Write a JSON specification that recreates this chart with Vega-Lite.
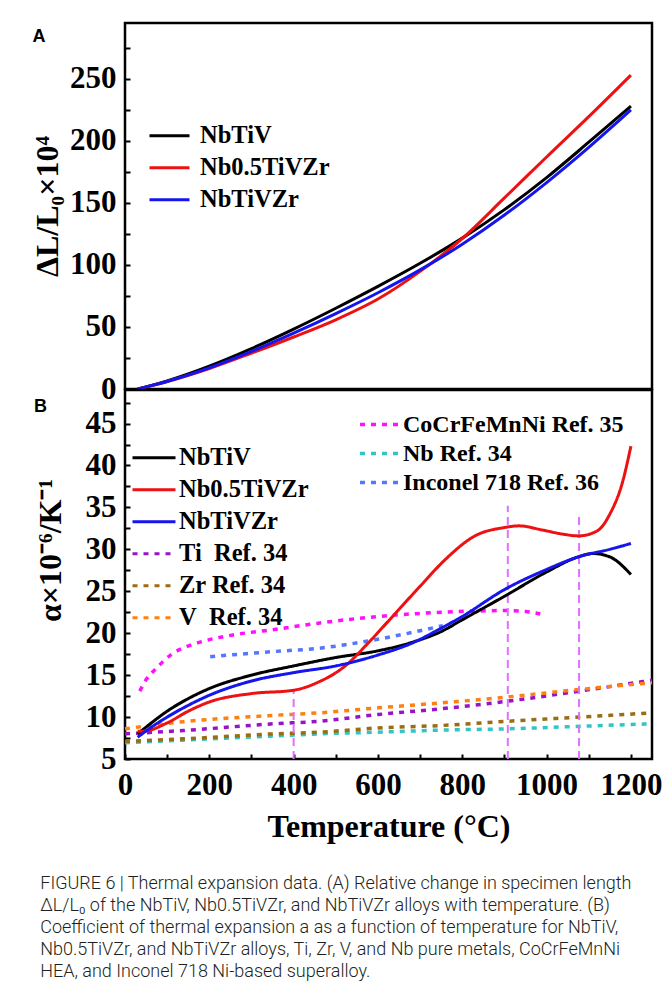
{
  "$schema": "https://vega.github.io/schema/vega-lite/v6.json",
  "padding": {"left": 30, "top": 21, "right": 5, "bottom": 5},
  "background": "white",
  "bounds": "flush",
  "config": {
    "view": {"stroke": "black", "strokeWidth": 2.5},
    "axis": {"domain": false, "grid": false, "ticks": true, "tickColor": "black", "tickWidth": 2, "tickSize": -5, "labelFlush": false,
      "labelFont": "Liberation Serif", "labelFontWeight": "bold", "labelFontSize": 31, "labelColor": "black",
      "titleFont": "Liberation Serif", "titleFontWeight": "bold", "titleFontSize": 32, "titleColor": "black"},
    "legend": {"title": null, "labelFont": "Liberation Serif", "labelFontWeight": "bold", "labelFontSize": 24.5, "labelColor": "black", "labelLimit": 400, "symbolStrokeWidth": 3, "symbolType": "stroke", "labelOffset": 8}
  },
  "title": {
    "text": [
      "FIGURE 6 | Thermal expansion data. (A) Relative change in specimen length",
      "ΔL/L₀ of the NbTiV, Nb0.5TiVZr, and NbTiVZr alloys with temperature. (B)",
      "Coefficient of thermal expansion a as a function of temperature for NbTiV,",
      "Nb0.5TiVZr, and NbTiVZr alloys, Ti, Zr, V, and Nb pure metals, CoCrFeMnNi",
      "HEA, and Inconel 718 Ni-based superalloy."
    ],
    "orient": "bottom", "anchor": "start", "frame": "bounds", "font": "Roboto", "fontSize": 18, "fontWeight": 300, "lineHeight": 22, "offset": 32, "dx": 10, "color": "#231f20"
  },
  "spacing": 1,
  "resolve": {"scale": {"color": "independent", "strokeDash": "independent", "stroke": "independent", "x": "independent", "y": "independent"}},
  "vconcat": [
    {
      "width": 527, "height": 366,
      "title": {"text": "A", "anchor": "start", "frame": "bounds", "orient": "top", "offset": -23, "font": "Liberation Sans", "fontSize": 18, "fontWeight": "bold", "dx": 1, "color": "black"},
      "data": {"values": [
        {"series": "NbTiV", "T": 30, "dL": 0}, {"series": "NbTiV", "T": 50, "dL": 1.7}, {"series": "NbTiV", "T": 100, "dL": 6.6}, {"series": "NbTiV", "T": 200, "dL": 18.5}, {"series": "NbTiV", "T": 300, "dL": 32.6}, {"series": "NbTiV", "T": 400, "dL": 48.3}, {"series": "NbTiV", "T": 500, "dL": 65.1}, {"series": "NbTiV", "T": 600, "dL": 82.7}, {"series": "NbTiV", "T": 700, "dL": 101.3}, {"series": "NbTiV", "T": 800, "dL": 121.6}, {"series": "NbTiV", "T": 900, "dL": 144.6}, {"series": "NbTiV", "T": 1000, "dL": 170.4}, {"series": "NbTiV", "T": 1100, "dL": 198.9}, {"series": "NbTiV", "T": 1200, "dL": 228},
        {"series": "Nb0.5TiVZr", "T": 30, "dL": 0}, {"series": "Nb0.5TiVZr", "T": 50, "dL": 1.6}, {"series": "Nb0.5TiVZr", "T": 100, "dL": 6.0}, {"series": "Nb0.5TiVZr", "T": 200, "dL": 16.5}, {"series": "Nb0.5TiVZr", "T": 300, "dL": 28.9}, {"series": "Nb0.5TiVZr", "T": 400, "dL": 41.9}, {"series": "Nb0.5TiVZr", "T": 500, "dL": 55.8}, {"series": "Nb0.5TiVZr", "T": 600, "dL": 72.5}, {"series": "Nb0.5TiVZr", "T": 700, "dL": 94.8}, {"series": "Nb0.5TiVZr", "T": 800, "dL": 121.3}, {"series": "Nb0.5TiVZr", "T": 900, "dL": 154}, {"series": "Nb0.5TiVZr", "T": 1000, "dL": 187}, {"series": "Nb0.5TiVZr", "T": 1100, "dL": 219.5}, {"series": "Nb0.5TiVZr", "T": 1200, "dL": 253},
        {"series": "NbTiVZr", "T": 30, "dL": 0}, {"series": "NbTiVZr", "T": 50, "dL": 1.7}, {"series": "NbTiVZr", "T": 100, "dL": 6.1}, {"series": "NbTiVZr", "T": 200, "dL": 17}, {"series": "NbTiVZr", "T": 300, "dL": 30.3}, {"series": "NbTiVZr", "T": 400, "dL": 45}, {"series": "NbTiVZr", "T": 500, "dL": 60.8}, {"series": "NbTiVZr", "T": 600, "dL": 77.6}, {"series": "NbTiVZr", "T": 700, "dL": 96}, {"series": "NbTiVZr", "T": 800, "dL": 116.7}, {"series": "NbTiVZr", "T": 900, "dL": 140.2}, {"series": "NbTiVZr", "T": 1000, "dL": 166.4}, {"series": "NbTiVZr", "T": 1100, "dL": 194.8}, {"series": "NbTiVZr", "T": 1200, "dL": 225}
      ]},
      "mark": {"type": "line", "strokeWidth": 3, "interpolate": "monotone"},
      "encoding": {
        "x": {"field": "T", "type": "quantitative", "scale": {"domain": [0, 1250], "nice": false}, "axis": null},
        "y": {"field": "dL", "type": "quantitative", "scale": {"domain": [0, 295], "nice": false},
          "axis": {"values": [0, 25, 50, 75, 100, 125, 150, 175, 200, 225, 250, 275], "labelExpr": "datum.value % 50 === 0 ? datum.label : ''", "title": "ΔL/L₀×10⁴", "labelPadding": 14, "titlePadding": 5}},
        "color": {"field": "series", "type": "nominal", "sort": null,
          "scale": {"domain": ["NbTiV", "Nb0.5TiVZr", "NbTiVZr"], "range": ["#000000", "#ee1111", "#1515ee"]},
          "legend": {"orient": "none", "legendX": 23, "legendY": 97, "symbolSize": 1600, "rowPadding": 0, "clipHeight": 31.5, "labelOffset": 9}}
      }
    },
    {
      "width": 527, "height": 369,
      "title": {"text": "B", "anchor": "start", "frame": "bounds", "orient": "top", "offset": -26, "font": "Liberation Sans", "fontSize": 18, "fontWeight": "bold", "dx": 0, "color": "black"},
      "encoding": {
        "x": {"field": "T", "type": "quantitative", "scale": {"domain": [0, 1250], "nice": false},
          "axis": {"values": [0, 100, 200, 300, 400, 500, 600, 700, 800, 900, 1000, 1100, 1200], "labelExpr": "datum.value % 200 === 0 ? datum.label : ''", "format": "d", "title": "Temperature (°C)", "labelPadding": 16, "titlePadding": 11}},
        "y": {"field": "a", "type": "quantitative", "scale": {"domain": [5, 49], "nice": false},
          "axis": {"values": [5, 7.5, 10, 12.5, 15, 17.5, 20, 22.5, 25, 27.5, 30, 32.5, 35, 37.5, 40, 42.5, 45, 47.5], "labelExpr": "datum.value % 5 === 0 ? datum.label : ''", "title": "α×10⁻⁶/K⁻¹", "labelPadding": 14, "titlePadding": 18, "titleY": 160}}
      },
      "layer": [
        {
          "data": {"values": [
            {"series": "CoCrFeMnNi Ref. 35", "T": 35, "a": 13.1}, {"series": "CoCrFeMnNi Ref. 35", "T": 52, "a": 14.6}, {"series": "CoCrFeMnNi Ref. 35", "T": 72, "a": 15.7}, {"series": "CoCrFeMnNi Ref. 35", "T": 111, "a": 17.5}, {"series": "CoCrFeMnNi Ref. 35", "T": 151, "a": 18.5}, {"series": "CoCrFeMnNi Ref. 35", "T": 190, "a": 19.1}, {"series": "CoCrFeMnNi Ref. 35", "T": 270, "a": 19.9}, {"series": "CoCrFeMnNi Ref. 35", "T": 349, "a": 20.4}, {"series": "CoCrFeMnNi Ref. 35", "T": 459, "a": 21.2}, {"series": "CoCrFeMnNi Ref. 35", "T": 602, "a": 22.0}, {"series": "CoCrFeMnNi Ref. 35", "T": 752, "a": 22.5}, {"series": "CoCrFeMnNi Ref. 35", "T": 908, "a": 22.7}, {"series": "CoCrFeMnNi Ref. 35", "T": 950, "a": 22.6}, {"series": "CoCrFeMnNi Ref. 35", "T": 985, "a": 22.3},
            {"series": "Nb Ref. 34", "T": 0, "a": 6.95}, {"series": "Nb Ref. 34", "T": 139, "a": 7.25}, {"series": "Nb Ref. 34", "T": 353, "a": 7.75}, {"series": "Nb Ref. 34", "T": 460, "a": 8.0}, {"series": "Nb Ref. 34", "T": 600, "a": 8.2}, {"series": "Nb Ref. 34", "T": 752, "a": 8.45}, {"series": "Nb Ref. 34", "T": 908, "a": 8.6}, {"series": "Nb Ref. 34", "T": 1079, "a": 8.9}, {"series": "Nb Ref. 34", "T": 1250, "a": 9.2},
            {"series": "Inconel 718 Ref. 36", "T": 202, "a": 17.2}, {"series": "Inconel 718 Ref. 36", "T": 349, "a": 17.8}, {"series": "Inconel 718 Ref. 36", "T": 459, "a": 18.2}, {"series": "Inconel 718 Ref. 36", "T": 602, "a": 19.3}, {"series": "Inconel 718 Ref. 36", "T": 754, "a": 20.9}
          ]},
          "mark": {"type": "line", "strokeWidth": 3.5, "strokeDash": [5, 6], "interpolate": "monotone"},
          "encoding": {
            "stroke": {"field": "series", "type": "nominal", "sort": null,
              "scale": {"domain": ["CoCrFeMnNi Ref. 35", "Nb Ref. 34", "Inconel 718 Ref. 36"], "range": ["#ff10ff", "#33c4c4", "#5577ff"]},
              "legend": {"orient": "none", "legendX": 233, "legendY": 20, "symbolSize": 1521, "symbolDash": [5, 6], "symbolStrokeWidth": 3.5, "rowPadding": 0, "clipHeight": 29, "labelFontSize": 24, "labelOffset": 2}}
          }
        },
        {
          "data": {"values": [
            {"series": "Ti\u00a0 Ref. 34", "T": 0, "a": 8.0}, {"series": "Ti\u00a0 Ref. 34", "T": 139, "a": 8.4}, {"series": "Ti\u00a0 Ref. 34", "T": 353, "a": 9.2}, {"series": "Ti\u00a0 Ref. 34", "T": 460, "a": 9.5}, {"series": "Ti\u00a0 Ref. 34", "T": 600, "a": 10.3}, {"series": "Ti\u00a0 Ref. 34", "T": 752, "a": 11.0}, {"series": "Ti\u00a0 Ref. 34", "T": 908, "a": 11.9}, {"series": "Ti\u00a0 Ref. 34", "T": 1079, "a": 13.1}, {"series": "Ti\u00a0 Ref. 34", "T": 1250, "a": 14.4},
            {"series": "Zr Ref. 34", "T": 0, "a": 7.1}, {"series": "Zr Ref. 34", "T": 139, "a": 7.4}, {"series": "Zr Ref. 34", "T": 353, "a": 8.0}, {"series": "Zr Ref. 34", "T": 460, "a": 8.2}, {"series": "Zr Ref. 34", "T": 600, "a": 8.7}, {"series": "Zr Ref. 34", "T": 752, "a": 9.0}, {"series": "Zr Ref. 34", "T": 908, "a": 9.5}, {"series": "Zr Ref. 34", "T": 1079, "a": 10.0}, {"series": "Zr Ref. 34", "T": 1250, "a": 10.5},
            {"series": "V\u00a0 Ref. 34", "T": 0, "a": 8.6}, {"series": "V\u00a0 Ref. 34", "T": 139, "a": 9.45}, {"series": "V\u00a0 Ref. 34", "T": 353, "a": 10.2}, {"series": "V\u00a0 Ref. 34", "T": 460, "a": 10.5}, {"series": "V\u00a0 Ref. 34", "T": 600, "a": 11.1}, {"series": "V\u00a0 Ref. 34", "T": 752, "a": 11.7}, {"series": "V\u00a0 Ref. 34", "T": 908, "a": 12.4}, {"series": "V\u00a0 Ref. 34", "T": 1079, "a": 13.3}, {"series": "V\u00a0 Ref. 34", "T": 1250, "a": 14.1}
          ]},
          "mark": {"type": "line", "strokeWidth": 3.5, "interpolate": "monotone"},
          "encoding": {
            "color": {"field": "series", "type": "nominal", "sort": null,
              "scale": {"domain": ["NbTiV", "Nb0.5TiVZr", "NbTiVZr", "Ti\u00a0 Ref. 34", "Zr Ref. 34", "V\u00a0 Ref. 34"], "range": ["#000000", "#ee1111", "#1515ee", "#9a12c8", "#9b6c12", "#ff8010"]},
              "legend": {"orient": "none", "legendX": 6, "legendY": 52, "symbolSize": 1849, "rowPadding": 0, "clipHeight": 31.6, "labelOffset": 2}},
            "strokeDash": {"field": "series", "type": "nominal", "sort": null,
              "scale": {"domain": ["NbTiV", "Nb0.5TiVZr", "NbTiVZr", "Ti\u00a0 Ref. 34", "Zr Ref. 34", "V\u00a0 Ref. 34"], "range": [[1, 0], [1, 0], [1, 0], [5, 6], [5, 6], [5, 6]]},
              "legend": {"orient": "none", "legendX": 6, "legendY": 52, "symbolSize": 1849, "rowPadding": 0, "clipHeight": 31.6, "labelOffset": 2}}
          }
        },
        {
          "data": {"values": [
            {"T": 400, "a": 5, "a2": 13.3}, {"T": 908, "a": 5, "a2": 35.2}, {"T": 1077, "a": 5, "a2": 34.4}
          ]},
          "mark": {"type": "rule", "color": "#e070ff", "strokeWidth": 2, "strokeDash": [8, 5]},
          "encoding": {"y2": {"field": "a2"}}
        },
        {
          "data": {"values": [
            {"series": "NbTiV", "T": 30, "a": 8.0}, {"series": "NbTiV", "T": 60, "a": 9.2}, {"series": "NbTiV", "T": 100, "a": 10.7}, {"series": "NbTiV", "T": 150, "a": 12.2}, {"series": "NbTiV", "T": 200, "a": 13.4}, {"series": "NbTiV", "T": 300, "a": 15.0}, {"series": "NbTiV", "T": 400, "a": 16.1}, {"series": "NbTiV", "T": 500, "a": 17.1}, {"series": "NbTiV", "T": 600, "a": 17.9}, {"series": "NbTiV", "T": 680, "a": 18.9}, {"series": "NbTiV", "T": 750, "a": 20.2}, {"series": "NbTiV", "T": 800, "a": 21.6}, {"series": "NbTiV", "T": 900, "a": 24.4}, {"series": "NbTiV", "T": 1000, "a": 27.3}, {"series": "NbTiV", "T": 1075, "a": 29.1}, {"series": "NbTiV", "T": 1110, "a": 29.5}, {"series": "NbTiV", "T": 1150, "a": 29.1}, {"series": "NbTiV", "T": 1200, "a": 27.0},
            {"series": "Nb0.5TiVZr", "T": 30, "a": 8.3}, {"series": "Nb0.5TiVZr", "T": 50, "a": 8.35}, {"series": "Nb0.5TiVZr", "T": 100, "a": 9.3}, {"series": "Nb0.5TiVZr", "T": 150, "a": 10.7}, {"series": "Nb0.5TiVZr", "T": 200, "a": 11.8}, {"series": "Nb0.5TiVZr", "T": 300, "a": 12.8}, {"series": "Nb0.5TiVZr", "T": 400, "a": 13.2}, {"series": "Nb0.5TiVZr", "T": 460, "a": 14.2}, {"series": "Nb0.5TiVZr", "T": 520, "a": 16.0}, {"series": "Nb0.5TiVZr", "T": 580, "a": 19.0}, {"series": "Nb0.5TiVZr", "T": 640, "a": 22.3}, {"series": "Nb0.5TiVZr", "T": 700, "a": 25.6}, {"series": "Nb0.5TiVZr", "T": 760, "a": 28.8}, {"series": "Nb0.5TiVZr", "T": 830, "a": 31.6}, {"series": "Nb0.5TiVZr", "T": 900, "a": 32.6}, {"series": "Nb0.5TiVZr", "T": 935, "a": 32.8}, {"series": "Nb0.5TiVZr", "T": 990, "a": 32.3}, {"series": "Nb0.5TiVZr", "T": 1040, "a": 31.8}, {"series": "Nb0.5TiVZr", "T": 1076, "a": 31.6}, {"series": "Nb0.5TiVZr", "T": 1120, "a": 32.2}, {"series": "Nb0.5TiVZr", "T": 1150, "a": 34.2}, {"series": "Nb0.5TiVZr", "T": 1180, "a": 38.0}, {"series": "Nb0.5TiVZr", "T": 1200, "a": 42.3},
            {"series": "NbTiVZr", "T": 30, "a": 7.6}, {"series": "NbTiVZr", "T": 60, "a": 8.7}, {"series": "NbTiVZr", "T": 100, "a": 10.0}, {"series": "NbTiVZr", "T": 150, "a": 11.4}, {"series": "NbTiVZr", "T": 200, "a": 12.6}, {"series": "NbTiVZr", "T": 300, "a": 14.3}, {"series": "NbTiVZr", "T": 400, "a": 15.3}, {"series": "NbTiVZr", "T": 500, "a": 16.1}, {"series": "NbTiVZr", "T": 600, "a": 17.4}, {"series": "NbTiVZr", "T": 680, "a": 18.8}, {"series": "NbTiVZr", "T": 750, "a": 20.6}, {"series": "NbTiVZr", "T": 800, "a": 22.0}, {"series": "NbTiVZr", "T": 900, "a": 25.2}, {"series": "NbTiVZr", "T": 1000, "a": 27.6}, {"series": "NbTiVZr", "T": 1075, "a": 29.1}, {"series": "NbTiVZr", "T": 1150, "a": 30.0}, {"series": "NbTiVZr", "T": 1200, "a": 30.7}
          ]},
          "mark": {"type": "line", "strokeWidth": 3, "interpolate": "monotone"},
          "encoding": {
            "color": {"field": "series", "type": "nominal", "sort": null,
              "scale": {"domain": ["NbTiV", "Nb0.5TiVZr", "NbTiVZr", "Ti\u00a0 Ref. 34", "Zr Ref. 34", "V\u00a0 Ref. 34"], "range": ["#000000", "#ee1111", "#1515ee", "#9a12c8", "#9b6c12", "#ff8010"]},
              "legend": {"orient": "none", "legendX": 6, "legendY": 52, "symbolSize": 1849, "rowPadding": 0, "clipHeight": 31.6, "labelOffset": 2}},
            "strokeDash": {"field": "series", "type": "nominal", "sort": null,
              "scale": {"domain": ["NbTiV", "Nb0.5TiVZr", "NbTiVZr", "Ti\u00a0 Ref. 34", "Zr Ref. 34", "V\u00a0 Ref. 34"], "range": [[1, 0], [1, 0], [1, 0], [5, 6], [5, 6], [5, 6]]},
              "legend": {"orient": "none", "legendX": 6, "legendY": 52, "symbolSize": 1849, "rowPadding": 0, "clipHeight": 31.6, "labelOffset": 2}}
          }
        }
      ]
    }
  ]
}
